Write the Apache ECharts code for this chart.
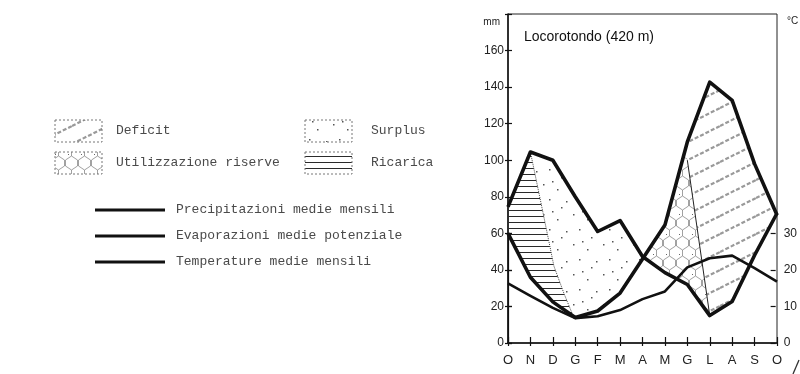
<!DOCTYPE html>
<html>
<head>
<meta charset="utf-8">
<script src="https://cdn.jsdelivr.net/npm/echarts@6/dist/echarts.min.js"></script>
<style>
  html, body { margin: 0; padding: 0; background: #fff; }
  #chart { width: 800px; height: 374px; }
</style>
</head>
<body>
<div id="chart"></div>
<script>
// Locorotondo (420 m) water balance: P, PE (mm) and T (°C, right axis)
const months = ["O", "N", "D", "G", "F", "M", "A", "M", "G", "L", "A", "S", "O"];
const precip = [74.5, 104.5, 100, 80, 61, 67, 47.3, 38.5, 32, 15, 22.7, 48, 71];
const evap = [60, 36, 22.5, 14, 17.5, 27.3, 46, 64.5, 110, 142.7, 132.7, 98, 70];
const temp = [16.3, 12.9, 9.6, 6.8, 7.3, 9.0, 12.0, 14.1, 20.7, 23.2, 23.9, 20.5, 16.8];
// boundaries between shaded zones, in (month index, mm)
const ricaricaEdge = [[1, 104.5], [1.6, 69], [2.05, 42], [2.5, 27], [2.9, 15]];
const deficitEdge = [[8, 100], [9, 15]];
const tempTicks = [0, 10, 20, 30];

const INK = "#111";
const TEXT = "#4a4a4a";
const MONO = "'Liberation Mono', 'DejaVu Sans Mono', monospace";
const SANS = "'Liberation Sans', Arial, sans-serif";

function makePattern(w, h, draw) {
  const c = document.createElement("canvas");
  c.width = w;
  c.height = h;
  draw(c.getContext("2d"));
  return { image: c, repeat: "repeat" };
}

const hatchRicarica = makePattern(8, 6, (ctx) => {
  ctx.fillStyle = "#2a2a2a";
  ctx.fillRect(0, 0, 8, 1);
});

const dotsSurplus = makePattern(30, 30, (ctx) => {
  ctx.fillStyle = "#555";
  [[3, 4], [17, 9], [26, 21], [9, 19], [21, 27], [12, 1]].forEach(([x, y]) =>
    ctx.fillRect(x, y, 1.5, 1.5)
  );
});

const stripesDeficit = makePattern(36, 18, (ctx) => {
  ctx.strokeStyle = "#9a9a9a";
  ctx.lineWidth = 2.2;
  ctx.setLineDash([4, 2]);
  [-18, 0, 18].forEach((dy) => {
    ctx.beginPath();
    ctx.moveTo(0, 18 + dy);
    ctx.lineTo(36, dy);
    ctx.stroke();
  });
});

const hexUtil = makePattern(13, 20, (ctx) => {
  ctx.strokeStyle = "#8a8a8a";
  ctx.lineWidth = 0.8;
  ctx.beginPath();
  ctx.moveTo(0.5, 0); ctx.lineTo(0.5, 6); ctx.lineTo(6.5, 10);
  ctx.moveTo(12.5, 0); ctx.lineTo(12.5, 6); ctx.lineTo(6.5, 10);
  ctx.moveTo(6.5, 10); ctx.lineTo(6.5, 16);
  ctx.lineTo(0.5, 20);
  ctx.moveTo(6.5, 16); ctx.lineTo(12.5, 20);
  ctx.stroke();
  ctx.fillStyle = "#666";
  ctx.fillRect(3, 14, 1, 1);
});

const pts = (arr, from, to) => {
  const out = [];
  if (from <= to) for (let i = from; i <= to; i++) out.push([i, arr[i]]);
  else for (let i = from; i >= to; i--) out.push([i, arr[i]]);
  return out;
};

const ricaricaPoly = [[0, precip[0]], ...ricaricaEdge, ...pts(evap, 2, 0)];
const surplusPoly = [...ricaricaEdge, ...pts(evap, 3, 6), ...pts(precip, 6, 2)];
const utilPoly = [...pts(evap, 6, 8), ...deficitEdge, ...pts(precip, 8, 6)];
const deficitPoly = [...pts(evap, 8, 12), ...pts(precip, 12, 10), ...deficitEdge.slice().reverse()];

function zone(name, poly, fill) {
  return {
    name,
    type: "custom",
    xAxisIndex: 0,
    yAxisIndex: 0,
    silent: true,
    z: 1,
    data: poly,
    encode: { x: 0, y: 1 },
    renderItem: (params, api) =>
      params.dataIndex === 0
        ? {
            type: "polygon",
            shape: { points: poly.map((p) => api.coord(p)) },
            style: { fill, stroke: null },
          }
        : null,
  };
}

function curve(name, values, yAxisIndex, width) {
  return {
    name,
    type: "line",
    xAxisIndex: 0,
    yAxisIndex,
    z: 5,
    showSymbol: false,
    silent: true,
    lineStyle: { color: INK, width, join: "round" },
    itemStyle: { color: INK },
    data: values.map((v, i) => [i, v]),
  };
}

const chart = echarts.init(document.getElementById("chart"));

const tickStyle = { lineStyle: { color: INK, width: 1.2 } };

function legendBox(x, y, fill, label, tx) {
  return [
    {
      type: "rect",
      shape: { x, y, width: 47, height: 22 },
      style: { fill, stroke: "#777", lineWidth: 1, lineDash: [2, 2] },
    },
    {
      type: "text",
      x: tx,
      y: y + 11,
      style: { text: label, font: `13px ${MONO}`, fill: TEXT, verticalAlign: "middle" },
    },
  ];
}

chart.setOption({
  animation: false,
  backgroundColor: "#fff",
  title: {
    text: "Locorotondo (420 m)",
    left: 519,
    top: 25,
    textStyle: { fontFamily: SANS, fontSize: 14, fontWeight: "normal", color: INK },
  },
  legend: {
    data: ["Precipitazioni medie mensili", "Evaporazioni medie potenziale", "Temperature medie mensili"],
    orient: "vertical",
    left: 90,
    top: 197,
    icon: "rect",
    itemWidth: 70,
    itemHeight: 3,
    itemGap: 10,
    selectedMode: false,
    textStyle: { fontFamily: MONO, fontSize: 13, color: TEXT, lineHeight: 16, padding: [0, 0, 0, 6] },
  },
  graphic: [
    ...legendBox(55, 120, stripesDeficit, "Deficit", 116),
    ...legendBox(55, 152, hexUtil, "Utilizzazione riserve", 116),
    ...legendBox(305, 120, dotsSurplus, "Surplus", 371),
    ...legendBox(305, 152, hatchRicarica, "Ricarica", 371),
    { type: "line", shape: { x1: 793, y1: 374, x2: 799, y2: 360 }, style: { stroke: "#333", lineWidth: 1.3 } },
  ],
  grid: [
    { left: 508, right: 23, top: 14, bottom: 31, show: true, borderColor: "#222", borderWidth: 1 },
    { left: 508, right: 23, top: 233.33, bottom: 31 },
  ],
  xAxis: [
    {
      gridIndex: 0,
      type: "value",
      min: 0,
      max: 12,
      interval: 1,
      position: "bottom",
      axisLine: { lineStyle: { color: INK, width: 1.5 } },
      axisTick: { length: 3, ...tickStyle },
      axisLabel: {
        margin: 11,
        fontFamily: SANS,
        fontSize: 13,
        color: "#222",
        formatter: (v) => months[v] ?? "",
      },
      splitLine: { show: false },
    },
    {
      gridIndex: 0,
      type: "value",
      min: 0,
      max: 12,
      interval: 1,
      position: "bottom",
      axisLine: { show: false },
      axisTick: { inside: true, length: 6, ...tickStyle },
      axisLabel: { show: false },
      splitLine: { show: false },
    },
    { gridIndex: 1, type: "value", min: 0, max: 12, show: false },
  ],
  yAxis: [
    {
      gridIndex: 0,
      type: "value",
      min: 0,
      max: 180,
      interval: 20,
      position: "left",
      name: "mm",
      nameLocation: "end",
      nameGap: -8,
      nameTextStyle: { fontFamily: SANS, fontSize: 10, color: "#222", align: "right", verticalAlign: "middle", padding: [0, 8, 0, 0] },
      axisLine: { lineStyle: { color: INK, width: 1.5 } },
      axisTick: { length: 3, ...tickStyle },
      axisLabel: {
        margin: 4,
        fontFamily: SANS,
        fontSize: 12,
        color: "#222",
        formatter: (v) => (v === 180 ? "" : v),
      },
      splitLine: { show: false },
    },
    {
      gridIndex: 0,
      type: "value",
      min: 0,
      max: 180,
      interval: 20,
      position: "left",
      axisLine: { show: false },
      axisTick: { inside: true, length: 4, ...tickStyle },
      axisLabel: { show: false },
      splitLine: { show: false },
    },
    {
      gridIndex: 0,
      type: "value",
      min: 0,
      max: 90,
      position: "right",
      name: "°C",
      nameLocation: "end",
      nameGap: -7,
      nameTextStyle: { fontFamily: SANS, fontSize: 10, color: "#222", align: "left", verticalAlign: "middle", padding: [0, 0, 0, 10] },
      axisLine: { show: false },
      axisTick: { show: false },
      axisLabel: { show: false },
      splitLine: { show: false },
    },
    {
      gridIndex: 1,
      type: "value",
      min: tempTicks[0],
      max: tempTicks[tempTicks.length - 1],
      interval: 10,
      position: "right",
      axisLine: { lineStyle: { color: INK, width: 1.2 } },
      axisTick: { length: 4, ...tickStyle },
      axisLabel: { margin: 8, fontFamily: SANS, fontSize: 12, color: "#222" },
      splitLine: { show: false },
    },
    {
      gridIndex: 1,
      type: "value",
      min: tempTicks[0],
      max: tempTicks[tempTicks.length - 1],
      interval: 10,
      position: "right",
      axisLine: { show: false },
      axisTick: { inside: true, length: 5, ...tickStyle },
      axisLabel: { show: false },
      splitLine: { show: false },
    },
  ],
  series: [
    zone("Ricarica", ricaricaPoly, hatchRicarica),
    zone("Surplus", surplusPoly, dotsSurplus),
    zone("Utilizzazione riserve", utilPoly, hexUtil),
    zone("Deficit", deficitPoly, stripesDeficit),
    {
      name: "ricarica-edge",
      type: "line",
      xAxisIndex: 0,
      yAxisIndex: 0,
      z: 4,
      showSymbol: false,
      silent: true,
      lineStyle: { color: "#444", width: 1, type: "dotted" },
      data: ricaricaEdge,
    },
    {
      name: "deficit-edge",
      type: "line",
      xAxisIndex: 0,
      yAxisIndex: 0,
      z: 4,
      showSymbol: false,
      silent: true,
      lineStyle: { color: "#222", width: 1 },
      data: deficitEdge,
    },
    curve("Precipitazioni medie mensili", precip, 0, 3.6),
    curve("Evaporazioni medie potenziale", evap, 0, 3.6),
    curve("Temperature medie mensili", temp, 2, 2.6),
  ],
});
</script>
</body>
</html>
